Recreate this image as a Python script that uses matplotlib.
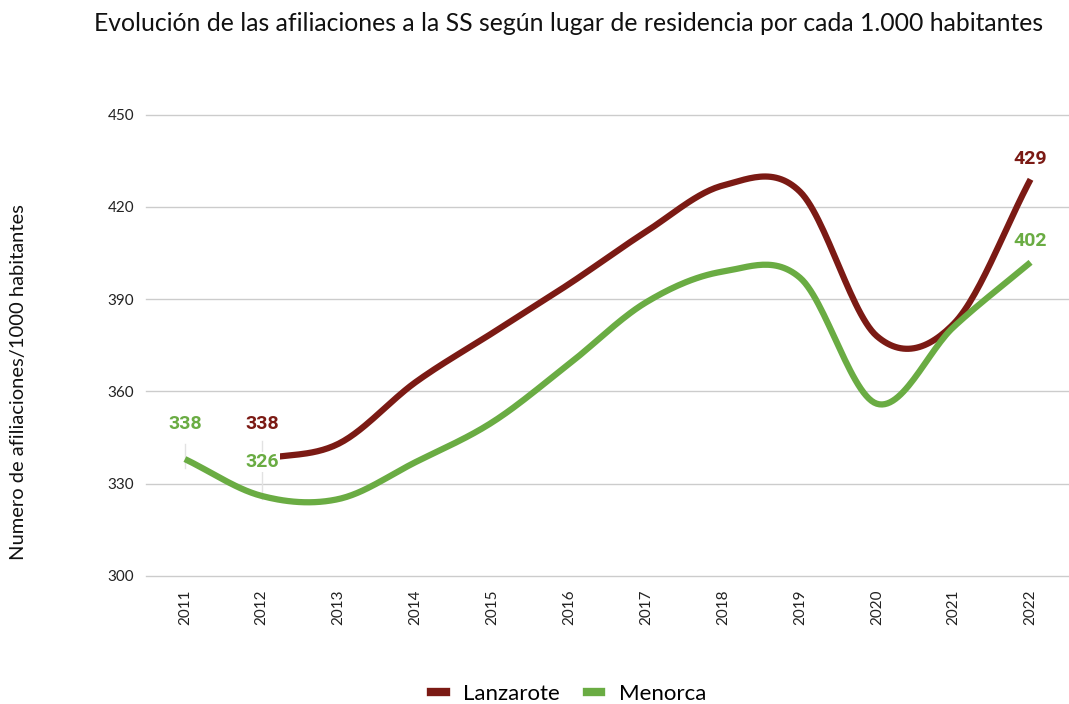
import numpy as np
import matplotlib
matplotlib.use("Agg")
import matplotlib.pyplot as plt
from matplotlib.lines import Line2D

# data
years = [2011, 2012, 2013, 2014, 2015, 2016, 2017, 2018, 2019, 2020, 2021, 2022]
lanzarote_years = years[1:]
lanzarote = [338, 343, 363, 379, 395, 412, 427, 425, 378, 382, 429]
menorca = [338, 326, 325, 337, 350, 369, 389, 399, 397, 356, 381, 402]

red = "#7b1a14"
green = "#6aac43"


def smooth(x, y, n=30):
    # catmull-rom curve through the points, just for drawing
    x = np.asarray(x, float)
    y = np.asarray(y, float)
    px = np.concatenate([[2 * x[0] - x[1]], x, [2 * x[-1] - x[-2]]])
    py = np.concatenate([[2 * y[0] - y[1]], y, [2 * y[-1] - y[-2]]])
    xs, ys = [], []
    t = np.linspace(0, 1, n)
    for i in range(1, len(px) - 2):
        for p, out in ((px, xs), (py, ys)):
            p0, p1, p2, p3 = p[i - 1], p[i], p[i + 1], p[i + 2]
            out.extend(0.5 * ((2 * p1) + (-p0 + p2) * t
                              + (2 * p0 - 5 * p1 + 4 * p2 - p3) * t ** 2
                              + (-p0 + 3 * p1 - 3 * p2 + p3) * t ** 3))
    return xs, ys


fig = plt.figure(figsize=(10.69, 7.04), dpi=100)
ax = fig.add_axes([0.137, 0.182, 0.863, 0.655])

sx, sy = smooth(lanzarote_years, lanzarote)
ax.plot(sx, sy, color=red, lw=4.5, solid_capstyle="butt", zorder=3)
sx, sy = smooth(years, menorca)
ax.plot(sx, sy, color=green, lw=4.5, solid_capstyle="butt", zorder=3)

ax.set_xlim(2010.5, 2022.5)
ax.set_ylim(300, 450)
ax.set_yticks([300, 330, 360, 390, 420, 450])
ax.set_xticks(years)
ax.set_xticklabels([str(y) for y in years], rotation=90, fontsize=11,
                   family="Lato", color="#222222")
for lab in ax.get_yticklabels():
    lab.set_fontsize(11)
    lab.set_family("Lato")
    lab.set_color("#222222")
ax.tick_params(length=0, pad=10)
ax.tick_params(axis="y", pad=9)
ax.grid(axis="y", color="#cccccc", lw=1)
for gl in ax.get_ygridlines():
    gl.set_clip_on(False)
ax.set_axisbelow(True)
for s in ax.spines.values():
    s.set_visible(False)

# point labels with thin leader lines
lab_kw = dict(fontsize=14, fontweight="bold", family="Roboto", ha="center", va="center", zorder=5)
ax.plot([2011, 2011], [343, 335], color="#e2e2e2", lw=1, zorder=1)
ax.text(2011, 349.5, str(menorca[0]), color=green, **lab_kw)
ax.plot([2012, 2012], [344, 325], color="#e2e2e2", lw=1, zorder=1)
ax.text(2012, 349.5, str(lanzarote[0]), color=red, **lab_kw)
ax.text(2012, 337, str(menorca[1]), color=green,
        bbox=dict(facecolor="white", edgecolor="none", pad=1), **lab_kw)
ax.text(2022, 435.5, str(lanzarote[-1]), color=red, **lab_kw)
ax.text(2022, 409, str(menorca[-1]), color=green, **lab_kw)

fig.text(0.017, 0.457, "Numero de afiliaciones/1000 habitantes", rotation=90,
         ha="center", va="center", fontsize=14.5, family="Lato", color="#111111")

fig.text(0.532, 0.966, "Evolución de las afiliaciones a la SS según lugar de residencia por cada 1.000 habitantes",
         ha="center", va="center", fontsize=17.8, family="Lato", color="#111111")

handles = [Line2D([0], [0], color=red, lw=6), Line2D([0], [0], color=green, lw=6)]
fig.legend(handles, ["Lanzarote", "Menorca"], loc="center", bbox_to_anchor=(0.532, 0.014),
           ncol=2, frameon=False, handlelength=0.65, handletextpad=0.8, columnspacing=1.2,
           prop={"family": "Lato", "size": 16})

fig.savefig("out.png", dpi=100)
